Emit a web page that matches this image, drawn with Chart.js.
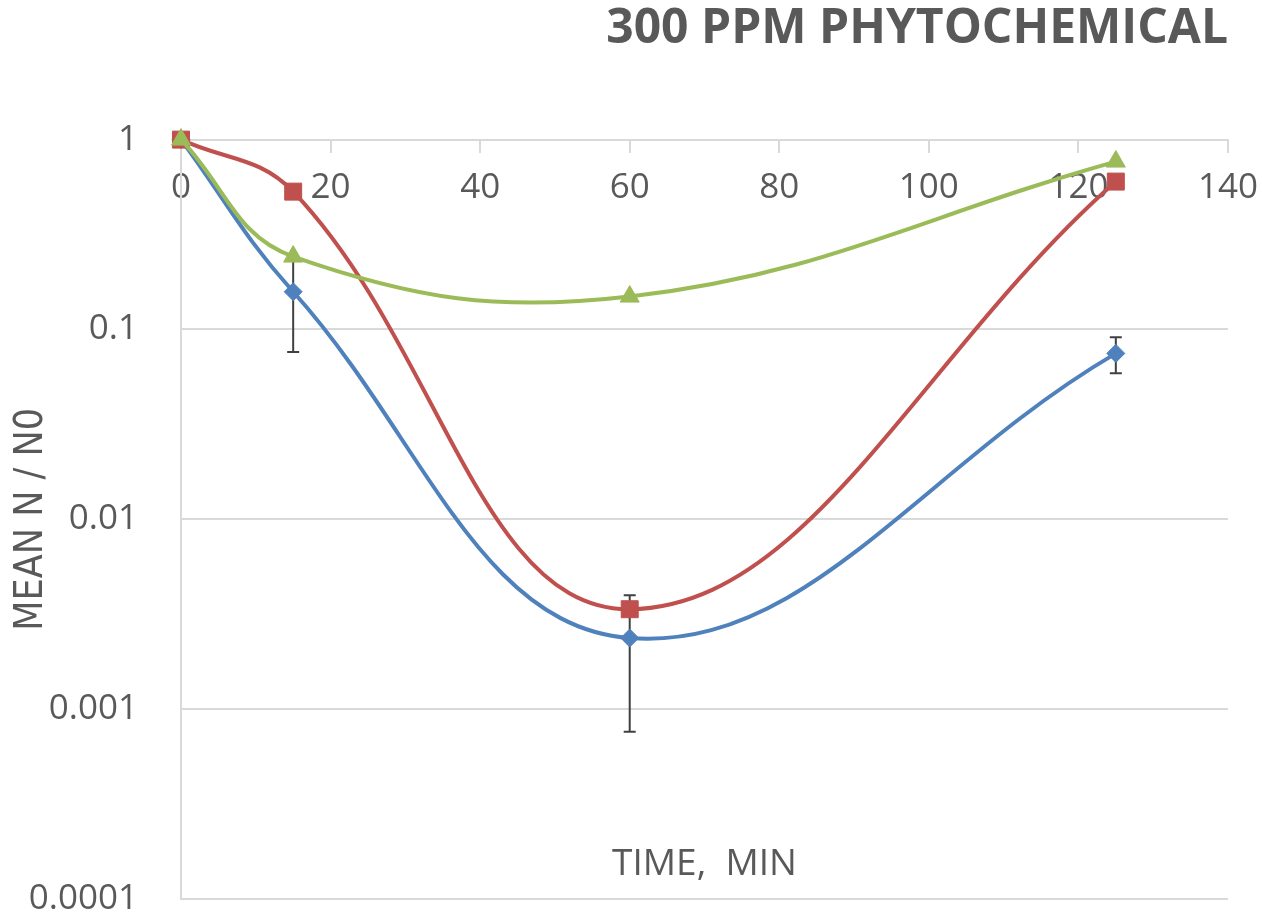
<!DOCTYPE html>
<html>
<head>
<meta charset="utf-8">
<script src="https://cdn.jsdelivr.net/npm/chart.js@4/dist/chart.umd.min.js"></script>
<style>
  html, body { margin: 0; padding: 0; background: #fff; }
  #wrap { width: 1262px; height: 916px; }
</style>
</head>
<body>
<div id="wrap"><canvas id="lineChart"></canvas></div>
<script>
const timeMin = [0, 15, 60, 125];
const blueValues = [1, 0.158, 0.00237, 0.0748];
const blueErrors = [null, 0.082, 0.00161, 0.0161];
const redValues = [1, 0.532, 0.00336, 0.601];
const greenValues = [1, 0.242, 0.149, 0.766];

const xTicks = [0, 20, 40, 60, 80, 100, 120, 140];
const yTicks = [1, 0.1, 0.01, 0.001, 0.0001];
const yTickLabels = ['1', '0.1', '0.01', '0.001', '0.0001'];

const textColor = '#595959';
const gridColor = '#d9d9d9';

const toPoints = (values) => timeMin.map((t, i) => ({ x: t, y: values[i] }));

// vertical error bars with caps, placed through the chart scales
const errorBars = {
    id: 'errorBars',
    beforeDatasetsDraw(chart) {
        const ctx = chart.ctx;
        const x = chart.scales.x;
        const y = chart.scales.y;
        ctx.save();
        ctx.strokeStyle = '#404040';
        ctx.lineWidth = 2;
        blueErrors.forEach((err, i) => {
            if (err == null) return;
            const px = x.getPixelForValue(timeMin[i]);
            const top = y.getPixelForValue(blueValues[i] + err);
            const bottom = y.getPixelForValue(blueValues[i] - err);
            ctx.beginPath();
            ctx.moveTo(px, top);
            ctx.lineTo(px, bottom);
            ctx.moveTo(px - 6, top);
            ctx.lineTo(px + 6, top);
            ctx.moveTo(px - 6, bottom);
            ctx.lineTo(px + 6, bottom);
            ctx.stroke();
        });
        ctx.restore();
    }
};

new Chart(document.getElementById('lineChart'), {
    type: 'line',
    data: {
        datasets: [
            {
                label: 'Series 1',
                data: toPoints(blueValues),
                borderColor: '#4f81bd',
                backgroundColor: '#4f81bd',
                borderWidth: 4,
                pointStyle: 'rectRot',
                pointRadius: 9,
                pointBorderWidth: 1,
                tension: 0.4,
                clip: false,
                order: 3
            },
            {
                label: 'Series 2',
                data: toPoints(redValues),
                borderColor: '#c0504d',
                backgroundColor: '#c0504d',
                borderWidth: 4,
                pointStyle: 'rect',
                pointRadius: 12,
                pointBorderWidth: 1,
                tension: 0.4,
                clip: false,
                order: 2
            },
            {
                label: 'Series 3',
                data: toPoints(greenValues),
                borderColor: '#9bbb59',
                backgroundColor: '#9bbb59',
                borderWidth: 4,
                pointStyle: 'triangle',
                pointRadius: 11,
                pointBorderWidth: 1,
                tension: 0.4,
                clip: false,
                order: 1
            }
        ]
    },
    options: {
        responsive: true,
        maintainAspectRatio: false,
        animation: false,
        layout: { padding: { left: 0, right: 34, top: 0, bottom: 17 } },
        plugins: {
            legend: { display: false },
            tooltip: { enabled: false },
            title: {
                display: true,
                text: '300 PPM PHYTOCHEMICAL',
                align: 'end',
                color: textColor,
                font: { family: 'Open Sans', size: 48, weight: 'bold' },
                padding: { top: 1, bottom: 81 }
            }
        },
        scales: {
            x: {
                type: 'linear',
                position: { y: 1 },
                min: 0,
                max: 140,
                afterBuildTicks: (scale) => { scale.ticks = xTicks.map(v => ({ value: v })); },
                afterFit: (scale) => { scale.paddingRight = 0; },
                ticks: {
                    color: textColor,
                    padding: 15,
                    maxRotation: 0,
                    font: { family: 'Open Sans', size: 35 }
                },
                grid: {
                    drawOnChartArea: false,
                    drawTicks: true,
                    tickLength: 12,
                    color: gridColor,
                    lineWidth: 2
                },
                border: { display: true, color: gridColor, width: 2 },
                title: {
                    display: true,
                    text: 'TIME,  MIN',
                    color: textColor,
                    font: { family: 'Open Sans', size: 37 },
                    padding: { top: 619, bottom: -300 }
                }
            },
            y: {
                type: 'logarithmic',
                position: 'left',
                min: 0.0001,
                max: 1,
                afterBuildTicks: (scale) => { scale.ticks = yTicks.map(v => ({ value: v })); },
                afterFit: (scale) => { scale.width = 181; scale.paddingBottom = 0; },
                ticks: {
                    color: textColor,
                    padding: 43,
                    font: { family: 'Open Sans', size: 35 },
                    callback: (value) => yTickLabels[yTicks.indexOf(value)]
                },
                grid: {
                    drawTicks: false,
                    color: gridColor,
                    lineWidth: 2
                },
                border: { display: true, color: gridColor, width: 2 },
                title: {
                    display: true,
                    text: 'MEAN N / N0',
                    color: textColor,
                    font: { family: "'Liberation Sans Narrow', 'DejaVu Sans Condensed', sans-serif", size: 39 },
                    padding: { top: 8, bottom: 0 }
                }
            }
        }
    },
    plugins: [errorBars]
});
</script>
</body>
</html>
